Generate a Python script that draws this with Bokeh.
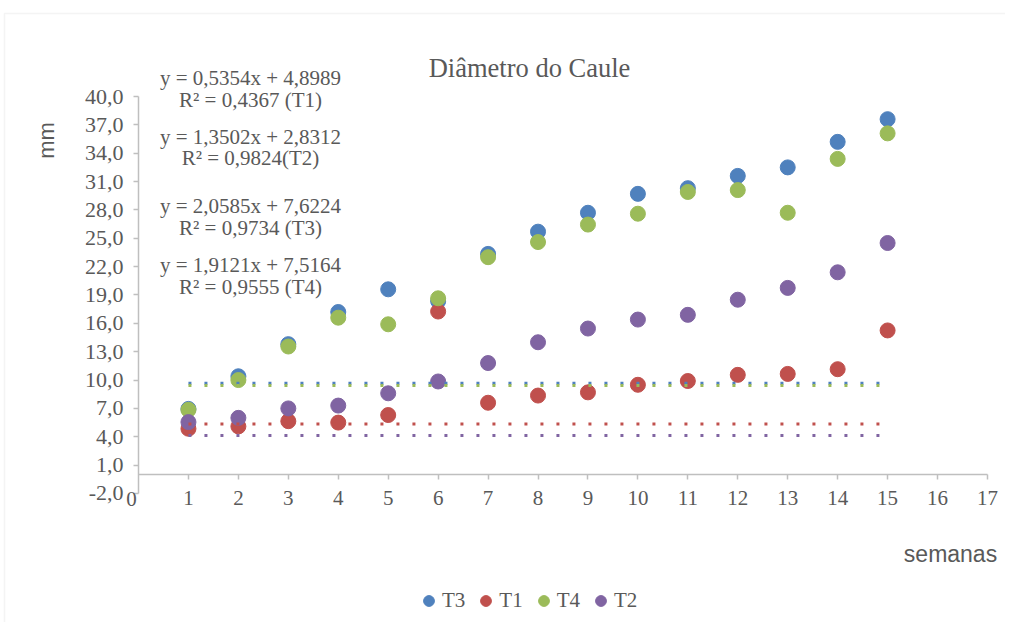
from bokeh.plotting import figure
from bokeh.models import (FixedTicker, Label, Legend, LegendItem, BoxAnnotation, Range1d)
from bokeh.embed import file_html
from bokeh.resources import INLINE

# ---------------- data ----------------
weeks = [1, 2, 3, 4, 5, 6, 7, 8, 9, 10, 11, 12, 13, 14, 15]
t3 = [6.95, 10.4, 13.8, 17.2, 19.6, 18.35, 23.35, 25.7, 27.7, 29.7, 30.3, 31.6, 32.5, 35.2, 37.6]
t1 = [4.85, 5.1, 5.65, 5.5, 6.3, 17.25, 7.6, 8.36, 8.7, 9.5, 9.9, 10.55, 10.65, 11.15, 15.25]
t4 = [6.85, 10.0, 13.55, 16.6, 15.9, 18.65, 23.0, 24.6, 26.45, 27.6, 29.9, 30.1, 27.7, 33.4, 36.1]
t2 = [5.55, 6.0, 7.0, 7.3, 8.6, 9.85, 11.8, 14.0, 15.45, 16.4, 16.9, 18.5, 19.75, 21.4, 24.5]

series_names = ["T3", "T1", "T4", "T2"]
series_values = {"T3": t3, "T1": t1, "T4": t4, "T2": t2}
series_colors = {"T3": "#4F81BD", "T1": "#C0504D", "T4": "#9BBB59", "T2": "#8064A2"}

# dotted horizontal reference levels
ref_x = [1, 15]
ref_levels = {"T3": 9.67, "T4": 9.42, "T1": 5.36, "T2": 4.13}

y_ticks = [-2, 1, 4, 7, 10, 13, 16, 19, 22, 25, 28, 31, 34, 37, 40]
x_ticks = [1, 2, 3, 4, 5, 6, 7, 8, 9, 10, 11, 12, 13, 14, 15, 16, 17]
x_bounds = (0, 17)
y_bounds = (-2, 40)

equations = [
    "y = 0,5354x + 4,8989", "R² = 0,4367 (T1)",
    "y = 1,3502x + 2,8312", "R² = 0,9824(T2)",
    "y = 2,0585x + 7,6224", "R² = 0,9734 (T3)",
    "y = 1,9121x + 7,5164", "R² = 0,9555 (T4)",
]

title_text = "Diâmetro do Caule"
x_label = "semanas"
y_label = "mm"

# ---------------- layout (pixels -> data) ----------------
W, H = 1005, 622
X0, XS = 138.0, 49.94      # pixel of x=0, pixels per week
Y40, YS = 96.0, 9.452      # pixel of y=40, pixels per mm


def dx(px):
    return (px - X0) / XS


def dy(py):
    return 40 - (py - Y40) / YS


equation_px_y = [77, 99, 136, 157, 205, 227, 264, 286]
equation_px_x = 250

TEXT = "#595959"
AXIS = "#BFBFBF"
SERIF = "Liberation Serif"
SANS = "Liberation Sans"

p = figure(width=W, height=H, output_backend="svg", toolbar_location=None,
           x_range=Range1d(dx(0), dx(W)), y_range=Range1d(dy(H), dy(0)),
           min_border=0, min_border_left=0, min_border_right=0,
           min_border_top=0, min_border_bottom=0)
p.title.visible = False
p.grid.visible = False
p.outline_line_color = None
p.background_fill_color = "white"
p.border_fill_color = "white"

# y axis at x = 0
ya = p.yaxis[0]
ya.fixed_location = 0
ya.bounds = y_bounds
ya.ticker = FixedTicker(ticks=y_ticks)
ya.major_label_overrides = {t: ("%.1f" % t).replace(".", ",") for t in y_ticks}
ya.axis_line_color = AXIS
ya.axis_line_width = 1.5
ya.major_tick_line_color = AXIS
ya.major_tick_line_width = 1.5
ya.major_tick_out = 5
ya.major_tick_in = 0
ya.minor_tick_line_color = None
ya.major_label_text_font = SERIF
ya.major_label_text_font_size = "22px"
ya.major_label_text_color = TEXT
ya.major_label_standoff = 10

# x axis at y = 0
xa = p.xaxis[0]
xa.fixed_location = 0
xa.bounds = x_bounds
xa.ticker = FixedTicker(ticks=x_ticks)
xa.axis_line_color = AXIS
xa.axis_line_width = 1.5
xa.major_tick_line_color = AXIS
xa.major_tick_line_width = 1.5
xa.minor_tick_line_color = None
xa.major_tick_out = 5
xa.major_tick_in = 0
xa.major_label_standoff = 11
xa.major_label_text_font = SERIF
xa.major_label_text_font_size = "21px"
xa.major_label_text_color = TEXT

p.add_layout(Label(x=dx(131), y=dy(491), text="0", text_font=SERIF, text_font_size="21px",
                   text_color=TEXT, text_align="center", text_baseline="top"))

# scatter series
renderers = {}
for name in series_names:
    c = series_colors[name]
    renderers[name] = p.scatter(x=weeks, y=series_values[name], size=15, marker="circle",
                                fill_color=c, line_color=c)

# dotted reference lines
for name in ["T3", "T4", "T1", "T2"]:
    lv = ref_levels[name]
    p.line(x=ref_x, y=[lv, lv], line_color=series_colors[name], line_width=3,
           line_dash="3 13")

# equations
for txt, py in zip(equations, equation_px_y):
    p.add_layout(Label(x=dx(equation_px_x), y=dy(py), text=txt, text_font=SERIF,
                       text_font_size="21px", text_color=TEXT,
                       text_align="center", text_baseline="middle"))

# title, axis titles
p.add_layout(Label(x=dx(529), y=dy(67), text=title_text, text_font=SERIF,
                   text_font_size="26.5px", text_color=TEXT,
                   text_align="center", text_baseline="middle"))
p.add_layout(Label(x=dx(950), y=dy(553), text=x_label, text_font=SANS,
                   text_font_size="23px", text_color=TEXT,
                   text_align="center", text_baseline="middle"))
p.add_layout(Label(x=dx(46), y=dy(140), text=y_label, text_font=SANS,
                   text_font_size="22px", text_color=TEXT, angle=1.5708,
                   text_align="center", text_baseline="middle"))

# legend
legend = Legend(items=[LegendItem(label=n, renderers=[renderers[n]]) for n in series_names],
                orientation="horizontal", location=(415, 8), glyph_width=27, glyph_height=27,
                label_standoff=-5, spacing=7, padding=0, margin=0,
                border_line_color=None, background_fill_alpha=0,
                label_text_font=SERIF, label_text_font_size="21px", label_text_color=TEXT)
p.add_layout(legend, "center")

# outer chart border
p.add_layout(BoxAnnotation(left=dx(4), right=dx(W + 50), top=dy(13), bottom=dy(H + 50),
                           fill_alpha=0, line_color="#D9D9D9", line_width=1.5,
                           level="underlay"))

open("out.html", "w").write(file_html(p, INLINE))
